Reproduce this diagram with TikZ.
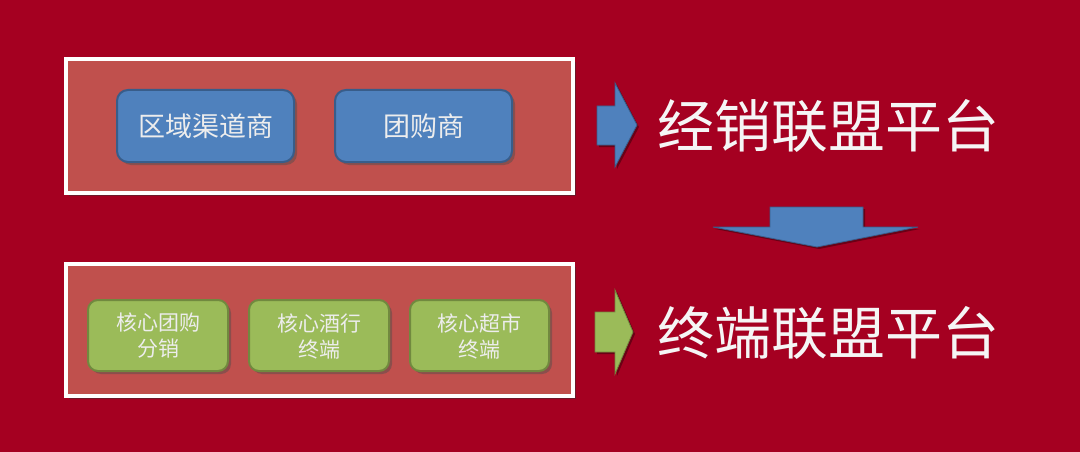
\documentclass[tikz,border=0pt]{standalone}
\usepackage{fontspec}
\setmainfont{Noto Sans CJK SC}
\newfontfamily\cjk{Noto Sans CJK SC}
\usetikzlibrary{shadows}
\definecolor{bgred}{RGB}{165,0,33}
\definecolor{panelred}{RGB}{192,80,77}
\definecolor{bluefill}{RGB}{79,129,189}
\definecolor{blueedge}{RGB}{56,93,138}
\definecolor{greenfill}{RGB}{155,187,89}
\definecolor{greenedge}{RGB}{113,137,63}
\tikzset{
  panel/.style={draw=white, line width=4pt, fill=panelred,
    drop shadow={shadow xshift=3pt, shadow yshift=-3pt, opacity=0.5, fill=black!80}},
  bluebox/.style={draw=blueedge, line width=2pt, fill=bluefill, rounded corners=11pt,
    drop shadow={shadow xshift=3pt, shadow yshift=-3pt, opacity=0.45, fill=black!70}},
  greenbox/.style={draw=greenedge, line width=2pt, fill=greenfill, rounded corners=10pt,
    drop shadow={shadow xshift=3pt, shadow yshift=-3pt, opacity=0.45, fill=black!70}},
  boxtext/.style={text=white!93!black, font=\cjk\fontsize{27}{30}\selectfont, inner sep=0pt},
  smalltext/.style={text=white!93!black, font=\cjk\fontsize{21}{26}\selectfont, align=center, inner sep=0pt},
  title/.style={text=white!96!black, font=\cjk\fontsize{57}{60}\selectfont, inner sep=0pt},
  bluearrow/.style={fill=bluefill, draw=blueedge, line width=0.8pt, line join=miter},
  greenarrow/.style={fill=greenfill, draw=greenedge, line width=0.8pt, line join=miter}
}
\begin{document}
\begin{tikzpicture}[x=1pt,y=-1pt]
\path[fill=bgred] (0,0) rectangle (1080,452);
\useasboundingbox (0,0) rectangle (1080,452);
% panels
\path[panel] (66,59) rectangle (573,193);
\path[panel] (66,264) rectangle (573,396);
% blue boxes
\path[bluebox] (117,90) rectangle (294,162);
\node[boxtext] (b1) at (205.5,126) {区域渠道商};
\path[bluebox] (335,90) rectangle (512,162);
\node[boxtext] (b2) at (423.5,126) {团购商};
% green boxes
\path[greenbox] (88,300) rectangle (228,371);
\node[smalltext] (g1) at (158,336) {核心团购\\分销};
\path[greenbox] (249,300) rectangle (389,371);
\node[smalltext] (g2) at (319,336) {核心酒行\\终端};
\path[greenbox] (410,300) rectangle (549,371);
\node[smalltext] (g3) at (479.5,336) {核心超市\\终端};
% right arrows
\fill[black, opacity=0.35] (599,108) -- (617,108) -- (617,85) -- (639,127) -- (617,169) -- (617,147) -- (599,147) -- cycle;
\path[bluearrow] (597,106) -- (615,106) -- (615,83) -- (637,125) -- (615,167) -- (615,145) -- (597,145) -- cycle;
\fill[black, opacity=0.35] (597,314) -- (617,314) -- (617,292) -- (635,334) -- (617,376) -- (617,354) -- (597,354) -- cycle;
\path[greenarrow] (595,312) -- (615,312) -- (615,290) -- (633,332) -- (615,374) -- (615,352) -- (595,352) -- cycle;
% down arrow
\fill[black, opacity=0.35] (772,209) -- (865,209) -- (865,229) -- (920,229) -- (819,249) -- (715,229) -- (772,229) -- cycle;
\path[bluearrow] (770,207) -- (863,207) -- (863,227) -- (918,227) -- (817,247) -- (713,227) -- (770,227) -- cycle;
% titles
\node[title] (t1) at (828,126) {经销联盟平台};
\node[title] (t2) at (828,333) {终端联盟平台};
\end{tikzpicture}
\end{document}
